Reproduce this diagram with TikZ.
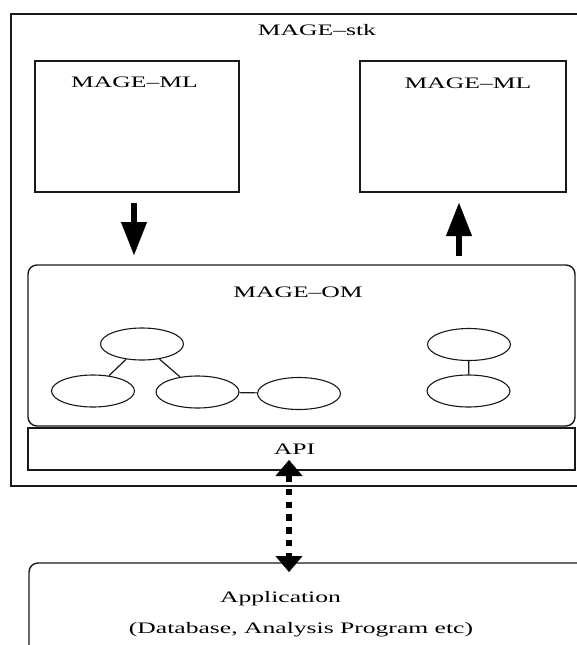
\documentclass[tikz,border=0pt]{standalone}
\usepackage{fontspec}
\setmainfont{Liberation Serif}
\usepackage{graphicx}
\usetikzlibrary{arrows.meta,shapes.geometric}

% wide lettering used throughout the figure
\newcommand{\widetext}[1]{\scalebox{1.6}[1]{#1}}

\tikzset{
  frame/.style={draw=black!90, line width=1.4pt, minimum width=#1, inner sep=0pt, outer sep=0pt},
  roundframe/.style={frame=#1, rounded corners=9pt},
  label text/.style={anchor=base, inner sep=0pt, font=\fontsize{16}{19}\selectfont},
  obj/.style={ellipse, draw=black!90, line width=1.1pt, minimum width=83pt, minimum height=32pt, inner sep=0pt},
  link/.style={draw=black!90, line width=1.2pt},
  flow/.style={line width=6.5pt, -{Triangle[length=33pt,width=26pt,line width=0.4pt]}},
  exchange/.style={line width=6pt, dash pattern=on 6.5pt off 6.3pt,
    {Triangle[length=16pt,width=27pt,line width=0.4pt]}-{Triangle[length=16pt,width=27pt,line width=0.4pt]}},
}

\begin{document}
\begin{tikzpicture}[x=1pt, y=-1pt]
  \useasboundingbox (0,0) rectangle (577,645);
  \fill[white] (0,0) rectangle (577,645);
  \clip (0,0) rectangle (577,645);

  % outer stack
  \node[frame=581pt, minimum height=472pt] (stk) at (301.5,250) {};
  \node[label text] (stktext) at (317,35) {\widetext{MAGE–stk}};

  % markup documents
  \node[frame=204pt, minimum height=131pt] (mlL) at (137,126.5) {};
  \node[label text] (mlLtext) at (134.5,87) {\widetext{MAGE–ML}};
  \node[frame=206pt, minimum height=131pt] (mlR) at (463,126.5) {};
  \node[label text] (mlRtext) at (468,88) {\widetext{MAGE–ML}};

  % object model
  \node[roundframe=547pt, minimum height=161pt] (om) at (301.5,345.5) {};
  \node[label text] (omtext) at (298,297) {\widetext{MAGE–OM}};

  \node[obj] (e1) at (142,344) {};
  \node[obj] (e2) at (93,391) {};
  \node[obj] (e3) at (197.5,392) {};
  \node[obj] (e4) at (299,393.5) {};
  \node[obj] (e5) at (469,344.5) {};
  \node[obj] (e6) at (468.5,391) {};
  \draw[link] (e1) -- (e2);
  \draw[link] (e1) -- (e3);
  \draw[link] (e3) -- (e4);
  \draw[link] (e5) -- (e6);

  % API layer
  \node[frame=547pt, minimum height=42pt] (api) at (301.5,449) {};
  \node[label text] (apitext) at (294.5,454) {\widetext{API}};

  % client application
  \node[roundframe=561pt, minimum height=97pt] (app) at (309.5,611.5) {};
  \node[label text] (apptext) at (280.5,602) {\widetext{Application}};
  \node[label text] (apptext2) at (301,633) {\widetext{(Database, Analysis Program etc)}};

  % arrow columns
  \coordinate (downx) at (134,0);
  \coordinate (upx) at (459,0);
  \coordinate (linkx) at (289,0);

  \draw[flow, shorten <=11pt, shorten >=10pt] (mlL.south -| downx) -- (om.north -| downx);
  \draw[flow, shorten <=9pt, shorten >=11pt] (om.north -| upx) -- (mlR.south -| upx);
  \draw[exchange, shorten <=-10pt, shorten >=-9pt] (api.south -| linkx) -- (app.north -| linkx);
\end{tikzpicture}
\end{document}
